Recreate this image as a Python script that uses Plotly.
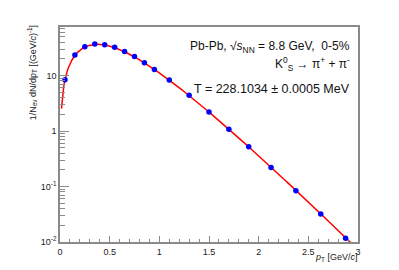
import numpy as np
import plotly.graph_objects as go

# Data points
pt = [0.05, 0.15, 0.25, 0.35, 0.45, 0.55, 0.65, 0.75, 0.85, 0.95,
      1.1, 1.3, 1.5, 1.7, 1.9, 2.125, 2.375, 2.625, 2.875]
yield_vals = [8.4, 23.3, 32.9, 36.8, 35.7, 32.4, 27.1, 22.0, 16.9, 12.8,
              8.26, 4.43, 2.19, 1.08, 0.519, 0.22, 0.0837, 0.0318, 0.0117]

# Fit parameters (thermal fit dN/dpT = A pT exp(-mT/T))
T_fit = 0.2281034  # GeV
A_fit = 1495.0
m_k0 = 0.497611

pt_fit = np.linspace(0.015, 2.96, 400)
mt_fit = np.sqrt(pt_fit**2 + m_k0**2)
y_fit = A_fit * pt_fit * np.exp(-mt_fit / T_fit)

x_tickvals = [0, 0.5, 1, 1.5, 2, 2.5, 3]
x_ticktext = ["0", "0.5", "1", "1.5", "2", "2.5", "3"]
y_tickvals = [0.01, 0.1, 1, 10]
y_ticktext = ["10<sup>-2</sup>", "10<sup>-1</sup>", "1", "10"]
y_minor = [k * 10.0**e for e in range(-2, 2) for k in range(2, 10)]

axcol = "#8a8a8a"
font = "Liberation Sans, Arial, sans-serif"

fig = go.Figure()
fig.add_trace(go.Scatter(x=pt_fit, y=y_fit, mode="lines",
                         line=dict(color="#ff0000", width=1.5),
                         hoverinfo="skip", showlegend=False))
fig.add_trace(go.Scatter(x=pt, y=yield_vals, mode="markers",
                         marker=dict(color="#0000ff", size=5.5),
                         showlegend=False))

fig.update_layout(
    width=391, height=262,
    margin=dict(l=52, r=41, t=19, b=28),
    paper_bgcolor="white", plot_bgcolor="white",
    font=dict(family=font, color="#222222", size=9),
    xaxis=dict(range=[0, 3], showgrid=False, zeroline=False,
               showline=True, linecolor=axcol, linewidth=1.5, mirror=True,
               ticks="inside", ticklen=6, tickcolor=axcol, tickwidth=1,
               tickvals=x_tickvals, ticktext=x_ticktext,
               tickfont=dict(size=9, family=font),
               minor=dict(dtick=0.1, ticks="inside", ticklen=3, tickcolor=axcol)),
    yaxis=dict(type="log", range=[-2, 1.874], showgrid=False, zeroline=False,
               showline=True, linecolor=axcol, linewidth=1.5, mirror=True,
               ticks="inside", ticklen=9, tickcolor=axcol, tickwidth=1,
               tickvals=y_tickvals, ticktext=y_ticktext,
               tickfont=dict(size=9, family=font),
               minor=dict(tickvals=y_minor, ticks="inside", ticklen=5, tickcolor=axcol)),
)

fig.add_annotation(text="1/N<sub>ev</sub> dN/dp<sub>T</sub> [(GeV/<i>c</i>)<sup>-1</sup>]",
                   xref="paper", yref="paper", x=-0.094, y=1.02,
                   xanchor="center", yanchor="top", textangle=-90,
                   showarrow=False, font=dict(size=9, family=font, color="#222222"))
fig.add_annotation(text="<i>p</i><sub>T</sub> [GeV/<i>c</i>]",
                   xref="paper", yref="paper", x=1.005, y=-0.072,
                   xanchor="right", yanchor="middle",
                   showarrow=False, font=dict(size=9, family=font, color="#222222"))
fig.add_annotation(text="Pb-Pb, √<i>s</i><sub>NN</sub> = 8.8 GeV,  0-5%",
                   xref="paper", yref="paper", x=0.98, y=0.905,
                   xanchor="right", yanchor="middle",
                   showarrow=False, font=dict(size=12, family=font, color="#111111"))
fig.add_annotation(text="K<sup>0</sup><sub>S</sub> → π<sup>+</sup> + π<sup>-</sup>",
                   xref="paper", yref="paper", x=0.98, y=0.83,
                   xanchor="right", yanchor="middle",
                   showarrow=False, font=dict(size=12, family=font, color="#111111"))
fig.add_annotation(text="T = 228.1034 ± 0.0005 MeV",
                   xref="paper", yref="paper", x=0.98, y=0.71,
                   xanchor="right", yanchor="middle",
                   showarrow=False, font=dict(size=12.5, family=font, color="#111111"))

fig.write_html("out.html")
